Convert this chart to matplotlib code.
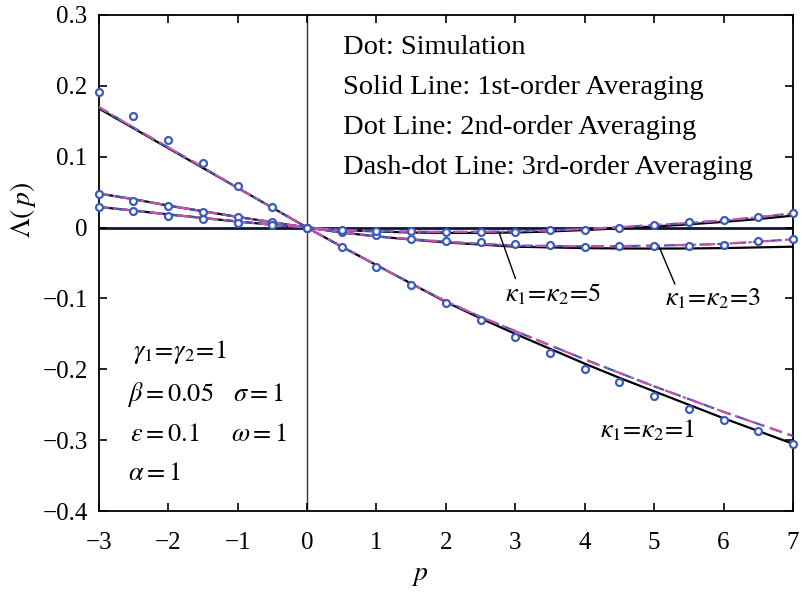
import numpy as np
import matplotlib
matplotlib.use('Agg')
import matplotlib.pyplot as plt
from matplotlib.ticker import FuncFormatter

plt.rcParams['font.family'] = ['Liberation Serif', 'DejaVu Serif']
plt.rcParams['mathtext.fontset'] = 'stix'

# sample grid shared by simulation and averaging curves
p_grid = [-3, -2.5, -2, -1.5, -1, -0.5, 0, 0.5, 1, 1.5, 2, 2.5, 3, 3.5, 4, 4.5, 5, 5.5, 6, 6.5, 7]

# simulation results
sim_k1 = [0.191, 0.158, 0.124, 0.091, 0.059, 0.0295, 0, -0.028, -0.055, -0.081, -0.107, -0.131,
          -0.154, -0.177, -0.199, -0.218, -0.238, -0.256, -0.271, -0.287, -0.305]
sim_k3 = [0.048, 0.038, 0.030, 0.0216, 0.0145, 0.0075, 0, -0.0067, -0.0104, -0.016, -0.0185, -0.0208,
          -0.0236, -0.0245, -0.0274, -0.0255, -0.0255, -0.0255, -0.024, -0.0193, -0.0165]
sim_k5 = [0.0287, 0.0239, 0.0168, 0.0117, 0.0069, 0.004, 0, -0.0034, -0.0048, -0.0048, -0.0057, -0.0057,
          -0.0057, -0.004, -0.0034, 0.0, 0.0037, 0.0075, 0.0103, 0.0145, 0.020]

# 1st-order averaging
avg1_k1 = [0.168, 0.140, 0.112, 0.084, 0.056, 0.028, 0, -0.027, -0.053, -0.079, -0.105, -0.128,
           -0.150, -0.171, -0.192, -0.212, -0.231, -0.250, -0.269, -0.287, -0.305]
avg1_k3 = [0.048, 0.040, 0.031, 0.023, 0.015, 0.0075, 0, -0.007, -0.0125, -0.017, -0.021, -0.024,
           -0.027, -0.028, -0.029, -0.0295, -0.0297, -0.0295, -0.029, -0.028, -0.027]
avg1_k5 = [0.029, 0.024, 0.0185, 0.0135, 0.0085, 0.004, 0, -0.0035, -0.0055, -0.007, -0.0075, -0.0075,
           -0.007, -0.0055, -0.0035, -0.001, 0.0015, 0.0045, 0.008, 0.012, 0.0168]

# 2nd-order averaging
avg2_k1 = [0.170, 0.141, 0.113, 0.085, 0.056, 0.028, 0, -0.027, -0.053, -0.079, -0.104, -0.126,
           -0.146, -0.166, -0.186, -0.205, -0.224, -0.242, -0.260, -0.277, -0.294]
avg2_k3 = [0.048, 0.040, 0.031, 0.023, 0.015, 0.0075, 0, -0.007, -0.0122, -0.0165, -0.020, -0.023,
           -0.0255, -0.026, -0.0265, -0.0262, -0.0255, -0.0245, -0.023, -0.020, -0.0165]
avg2_k5 = [0.029, 0.024, 0.0185, 0.0135, 0.0085, 0.004, 0, -0.0035, -0.005, -0.0058, -0.0062, -0.006,
           -0.0055, -0.004, -0.002, 0.0005, 0.0035, 0.0065, 0.010, 0.0145, 0.020]

# 3rd-order averaging
avg3_k1 = [0.170, 0.141, 0.113, 0.085, 0.056, 0.028, 0, -0.027, -0.053, -0.079, -0.104, -0.126,
           -0.146, -0.166, -0.186, -0.205, -0.224, -0.242, -0.260, -0.277, -0.294]
avg3_k3 = [0.048, 0.040, 0.031, 0.023, 0.015, 0.0075, 0, -0.007, -0.0122, -0.0165, -0.020, -0.023,
           -0.0255, -0.026, -0.0265, -0.0262, -0.0255, -0.0245, -0.023, -0.020, -0.0165]
avg3_k5 = [0.029, 0.024, 0.0185, 0.0135, 0.0085, 0.004, 0, -0.0035, -0.005, -0.0058, -0.0062, -0.006,
           -0.0055, -0.004, -0.002, 0.0005, 0.0035, 0.0065, 0.010, 0.0145, 0.020]

x_ticks = [-3, -2, -1, 0, 1, 2, 3, 4, 5, 6, 7]
y_ticks = [-0.4, -0.3, -0.2, -0.1, 0, 0.1, 0.2, 0.3]

notes = ['Dot: Simulation',
         'Solid Line: 1st-order Averaging',
         'Dot Line: 2nd-order Averaging',
         'Dash-dot Line: 3rd-order Averaging']

blue = '#3d5cb8'
magenta = '#c452a6'

fig = plt.figure(figsize=(8.03, 5.95), dpi=100)
ax = fig.add_axes([0.123, 0.141, 0.8645, 0.834])

ax.axhline(0, color='#0d1640', lw=2.0, zorder=1)
ax.axvline(0, color='#333333', lw=1.0, zorder=1)

for y1 in (avg1_k1, avg1_k3, avg1_k5):
    ax.plot(p_grid, y1, color='black', lw=1.6, zorder=2)
for y2 in (avg2_k1, avg2_k3, avg2_k5):
    ax.plot(p_grid, y2, color=blue, lw=1.6, ls=(0, (5, 3)), zorder=3)
for y3 in (avg3_k1, avg3_k3, avg3_k5):
    ax.plot(p_grid, y3, color=magenta, lw=1.6, ls=(2, (6, 2.5, 1.5, 2.5)), zorder=4)
for ys in (sim_k1, sim_k3, sim_k5):
    ax.plot(p_grid, ys, ls='none', marker='o', ms=5, mfc='white', mec=blue, mew=1.6,
            zorder=5, clip_on=False)

ax.set_xlim(-3, 7)
ax.set_ylim(-0.4, 0.3)
ax.set_xticks(x_ticks)
ax.set_yticks(y_ticks)
fmt = FuncFormatter(lambda v, pos: ('%g' % round(v, 2)).replace('-', '\u2212'))
ax.xaxis.set_major_formatter(fmt)
ax.yaxis.set_major_formatter(fmt)
ax.tick_params(direction='in', length=6, width=1.2, top=True, right=True, labelsize=18)
ax.tick_params(axis='x', pad=15)
ax.tick_params(axis='y', pad=8)
for sp in ax.spines.values():
    sp.set_linewidth(1.3)

ax.set_xlabel(r'$p$', fontsize=20)
ax.set_ylabel(r'$\Lambda(\,p)$', fontsize=20)
ax.xaxis.set_label_coords(0.4625, -0.105)
ax.yaxis.set_label_coords(-0.087, 0.607)

# legend-like notes in the upper right
for i, s in enumerate(notes):
    ax.text(0.52, 0.2545 - i * 0.0565, s, fontsize=20.5, va='center', ha='left')

# parameter values
ax.text(-2.5, -0.176, r'$\gamma_1\!=\!\gamma_2\!=\!1$', fontsize=19, va='center')
ax.text(-2.6, -0.236, r'$\beta=0.05$', fontsize=19, va='center')
ax.text(-1.07, -0.236, r'$\sigma=1$', fontsize=19, va='center')
ax.text(-2.55, -0.292, r'$\varepsilon=0.1$', fontsize=19, va='center')
ax.text(-1.10, -0.292, r'$\omega=1$', fontsize=19, va='center')
ax.text(-2.58, -0.348, r'$\alpha=1$', fontsize=19, va='center')

# curve labels with pointers
ax.annotate(r'$\kappa_1\!=\!\kappa_2\!=\!5$', xy=(2.77, -0.0081), xytext=(2.85, -0.094),
            fontsize=19, va='center', ha='left',
            arrowprops=dict(arrowstyle='-', color='black', lw=1.0, shrinkA=0, shrinkB=0,
                            relpos=(0.12, 1.0)))
ax.annotate(r'$\kappa_1\!=\!\kappa_2\!=\!3$', xy=(5.06, -0.0245), xytext=(5.15, -0.101),
            fontsize=19, va='center', ha='left',
            arrowprops=dict(arrowstyle='-', color='black', lw=1.0, shrinkA=0, shrinkB=0,
                            relpos=(0.12, 1.0)))
ax.text(4.22, -0.286, r'$\kappa_1\!=\!\kappa_2\!=\!1$', fontsize=19, va='center', ha='left')

fig.savefig('out.png', dpi=100)
plt.close(fig)
